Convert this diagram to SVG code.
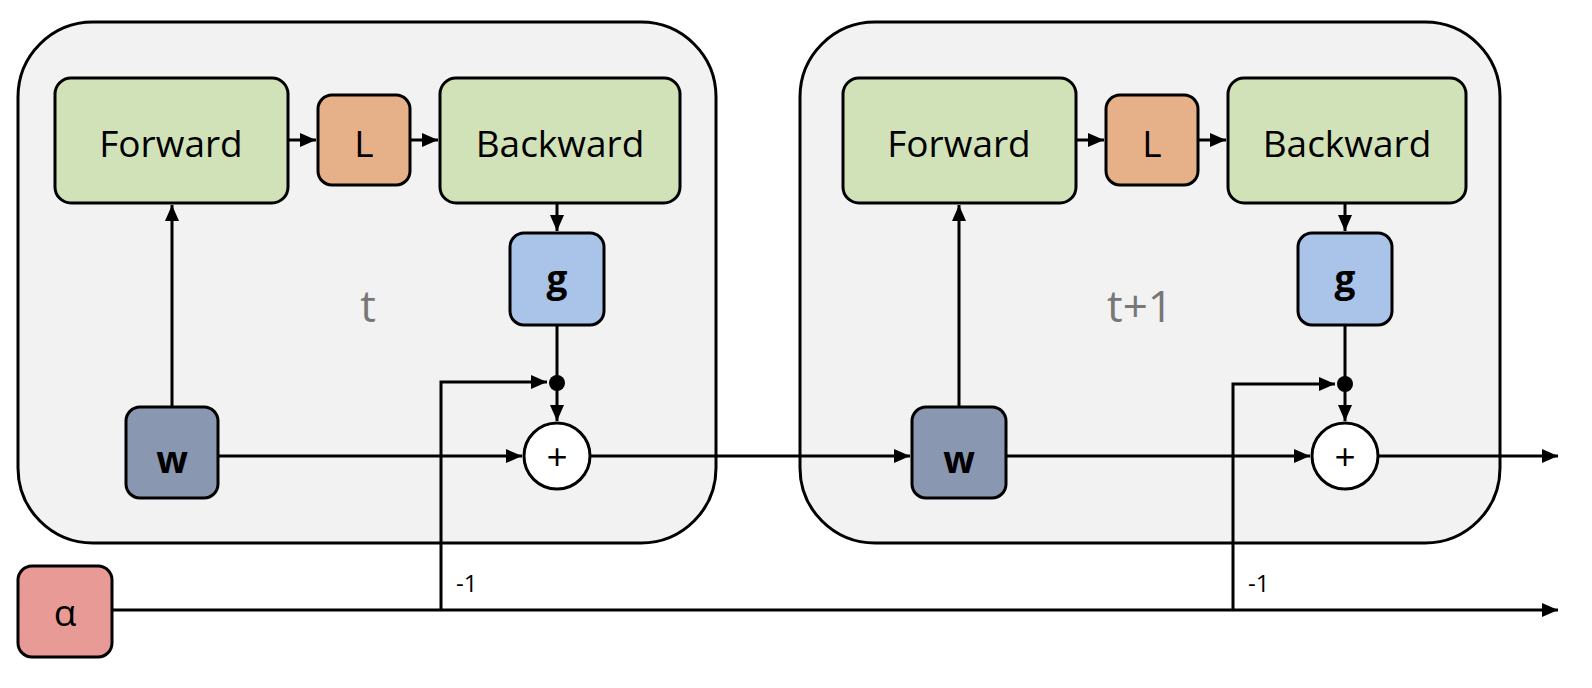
<svg xmlns="http://www.w3.org/2000/svg" width="1592" height="688" viewBox="0 0 1592 688">
<style>
.outer{fill:#f2f2f2;stroke:#000;stroke-width:3}
.n{stroke:#000;stroke-width:3}
.gr{fill:#d1e2b9}.or{fill:#e6b088}.bl{fill:#a9c4e8}.wb{fill:#8a97b0}.al{fill:#e89a96}
.tx{font-family:"Open Sans","Liberation Sans",sans-serif;font-size:37px;fill:#000;text-anchor:middle;dominant-baseline:central}
.tl{font-family:"Open Sans","Liberation Sans",sans-serif;font-size:44px;fill:#777;text-anchor:middle;dominant-baseline:central}
.sm{font-family:"Open Sans","Liberation Sans",sans-serif;font-size:24px;fill:#000}
.c line,.c path{stroke:#000;stroke-width:3;fill:none}
</style>
<defs><marker id="b" markerWidth="16" markerHeight="14" refX="16" refY="7" orient="auto" markerUnits="userSpaceOnUse"><path d="M0,0L16,7L0,14Z" fill="#000"/></marker></defs>
<g id="step1"><rect class="outer" x="18" y="22" width="698" height="521" rx="75"/><text class="tl" x="368" y="305">t</text></g>
<g id="step2"><rect class="outer" x="800" y="22" width="700" height="521" rx="75"/><text class="tl" x="1140" y="305">t+1</text></g>
<g id="forward1"><rect class="n gr" x="55" y="78" width="233" height="125" rx="16"/><text class="tx" x="171" y="142">Forward</text></g>
<g id="L1"><rect class="n or" x="318" y="95" width="92" height="90" rx="14"/><text class="tx" x="364" y="142">L</text></g>
<g id="backward1"><rect class="n gr" x="440" y="78" width="240" height="125" rx="16"/><text class="tx" x="560" y="142">Backward</text></g>
<g id="g1"><rect class="n bl" x="510" y="233" width="94" height="92" rx="14"/><text class="tx" x="557" y="277" font-weight="bold" font-size="32">g</text></g>
<g id="w1"><rect class="n wb" x="126" y="407" width="92" height="91" rx="14"/><text class="tx" x="172" y="458" font-weight="bold" font-size="32">w</text></g>
<g id="plus1"><circle class="n" cx="557" cy="456" r="33" fill="#fff"/><text class="tx" x="557" y="455" font-size="36">+</text></g>
<g id="forward2"><rect class="n gr" x="843" y="78" width="233" height="125" rx="16"/><text class="tx" x="959" y="142">Forward</text></g>
<g id="L2"><rect class="n or" x="1106" y="95" width="92" height="90" rx="14"/><text class="tx" x="1152" y="142">L</text></g>
<g id="backward2"><rect class="n gr" x="1228" y="78" width="238" height="125" rx="16"/><text class="tx" x="1347" y="142">Backward</text></g>
<g id="g2"><rect class="n bl" x="1298" y="233" width="94" height="92" rx="14"/><text class="tx" x="1345" y="277" font-weight="bold" font-size="32">g</text></g>
<g id="w2"><rect class="n wb" x="912" y="407" width="94" height="91" rx="14"/><text class="tx" x="959" y="458" font-weight="bold" font-size="32">w</text></g>
<g id="plus2"><circle class="n" cx="1345" cy="456" r="33" fill="#fff"/><text class="tx" x="1345" y="455" font-size="36">+</text></g>
<g id="alpha"><rect class="n al" x="18" y="566" width="94" height="91" rx="14"/><text class="tx" x="65" y="611" font-family="'DejaVu Serif',serif">α</text></g>
<g class="c" id="connectors">
<line x1="172" y1="407" x2="172" y2="205" marker-end="url(#b)"/>
<line x1="288" y1="140" x2="316" y2="140" marker-end="url(#b)"/>
<line x1="410" y1="140" x2="438" y2="140" marker-end="url(#b)"/>
<line x1="557" y1="203" x2="557" y2="231" marker-end="url(#b)"/>
<line x1="557" y1="325" x2="557" y2="421" marker-end="url(#b)"/>
<line x1="218" y1="456" x2="522" y2="456" marker-end="url(#b)"/>
<line x1="590" y1="456" x2="910" y2="456" marker-end="url(#b)"/>
<path d="M441,610V382H547" marker-end="url(#b)"/>
<line x1="959" y1="407" x2="959" y2="205" marker-end="url(#b)"/>
<line x1="1076" y1="140" x2="1104" y2="140" marker-end="url(#b)"/>
<line x1="1198" y1="140" x2="1226" y2="140" marker-end="url(#b)"/>
<line x1="1345" y1="203" x2="1345" y2="231" marker-end="url(#b)"/>
<line x1="1345" y1="325" x2="1345" y2="421" marker-end="url(#b)"/>
<line x1="1006" y1="456" x2="1310" y2="456" marker-end="url(#b)"/>
<line x1="1378" y1="456" x2="1558" y2="456" marker-end="url(#b)"/>
<path d="M1233,610V384H1335" marker-end="url(#b)"/>
<line x1="112" y1="610" x2="1558" y2="610" marker-end="url(#b)"/>
<circle cx="557" cy="383" r="8" fill="#000"/>
<circle cx="1345" cy="384" r="8" fill="#000"/>
</g>
<text class="sm" x="456" y="592">-1</text>
<text class="sm" x="1248" y="592">-1</text>
</svg>
